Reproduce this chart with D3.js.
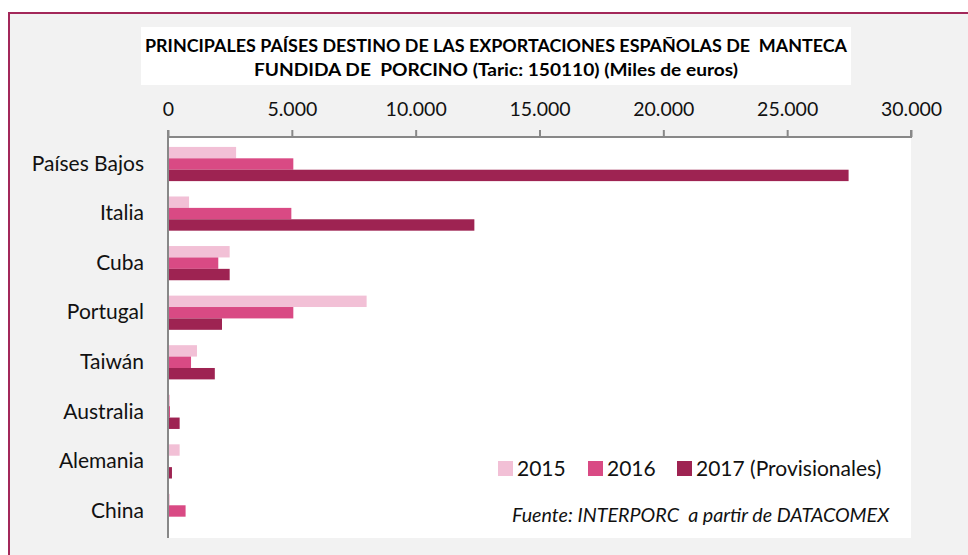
<!DOCTYPE html>
<html>
<head>
<meta charset="utf-8">
<script src="https://cdn.jsdelivr.net/npm/d3@7"></script>
<style>
  html, body { margin: 0; padding: 0; background: #ffffff; }
  svg { display: block; font-family: Lato, "Open Sans", sans-serif; }
  text { white-space: pre; }
</style>
</head>
<body>
<svg id="chart" width="968" height="555"></svg>
<script>
// Destination countries, top to bottom
const countries = ["Países Bajos", "Italia", "Cuba", "Portugal", "Taiwán", "Australia", "Alemania", "China"];
const years = ["2015", "2016", "2017"];
const yearLabels = ["2015", "2016", "2017 (Provisionales)"];
// Export value, thousands of euros
const values2015 = [2750, 850, 2490, 8020, 1170, 80, 470, 70];
const values2016 = [5060, 4980, 2030, 5060, 930, 80, 20, 710];
const values2017 = [27480, 12370, 2490, 2180, 1890, 470, 160, 20];
const tickValues = [0, 5000, 10000, 15000, 20000, 25000, 30000];
const titleLines = [
  "PRINCIPALES PAÍSES DESTINO DE LAS EXPORTACIONES ESPAÑOLAS DE  MANTECA",
  "FUNDIDA DE  PORCINO (Taric: 150110) (Miles de euros)"
];
const titleWidths = [702, 484];
const sourceText = "Fuente: INTERPORC  a partir de DATACOMEX";

const colors = { "2015": "#f2c0d6", "2016": "#d94a84", "2017": "#9e2352" };
const seriesValues = { "2015": values2015, "2016": values2016, "2017": values2017 };

const svg = d3.select("#chart");

// Panel background and frame
svg.append("rect").attr("x", 9).attr("y", 13).attr("width", 980).attr("height", 560)
  .attr("fill", "#f2f2f2").attr("stroke", "#a3285a").attr("stroke-width", 2);

// Title box
svg.append("rect").attr("x", 141).attr("y", 27).attr("width", 710).attr("height", 58).attr("fill", "#ffffff");
svg.append("g").selectAll("text").data(titleLines).join("text")
  .attr("x", 496).attr("y", (d, i) => 52 + i * 24)
  .attr("text-anchor", "middle").attr("font-weight", "bold").attr("font-size", 16.5)
  .attr("textLength", (d, i) => titleWidths[i]).attr("lengthAdjust", "spacingAndGlyphs")
  .attr("fill", "#000").text(d => d);

const plotLeft = 168, plotRight = 911, plotTop = 137, plotBottom = 538;

// Plot area
svg.append("rect").attr("x", plotLeft).attr("y", plotTop)
  .attr("width", plotRight - plotLeft).attr("height", plotBottom - plotTop)
  .attr("fill", "#ffffff");

const x = d3.scaleLinear().domain([0, 30000]).range([plotLeft, plotRight]);
const y = d3.scaleBand().domain(countries).range([plotTop, plotBottom]).paddingInner(0.31).paddingOuter(0.2);
const yInner = d3.scaleBand().domain(years).range([0, y.bandwidth()]);

const rows = countries.map((c, i) => ({ country: c, vals: years.map(yr => ({ year: yr, value: seriesValues[yr][i] })) }));

const groups = svg.append("g").selectAll("g").data(rows).join("g")
  .attr("transform", d => `translate(0,${y(d.country)})`);
groups.selectAll("rect").data(d => d.vals).join("rect")
  .attr("x", x(0))
  .attr("y", d => yInner(d.year))
  .attr("width", d => x(d.value) - x(0))
  .attr("height", yInner.bandwidth())
  .attr("fill", d => colors[d.year]);

// Top value axis
const fmt = v => d3.format(",")(v).replace(/,/g, ".");
const xAxis = svg.append("g").attr("transform", `translate(0,${plotTop})`)
  .call(d3.axisTop(x).tickValues(tickValues).tickFormat(fmt).tickSize(7).tickPadding(14));
xAxis.select(".domain").attr("stroke", "#888").attr("stroke-width", 2)
  .attr("d", `M${plotLeft},-7V0H${plotRight}V-7`);
xAxis.selectAll(".tick line").attr("stroke", "#888").attr("stroke-width", 2);
xAxis.selectAll(".tick text").attr("font-size", 19.5).attr("fill", "#111").attr("font-family", "Lato, sans-serif");

// Category axis
const yAxis = svg.append("g").attr("transform", `translate(${plotLeft},0)`)
  .call(d3.axisLeft(y).tickSize(0).tickPadding(24));
yAxis.select(".domain").attr("stroke", "#888").attr("stroke-width", 2).attr("d", `M0,${plotTop}V${plotBottom}`);
yAxis.selectAll(".tick text").attr("font-size", 21).attr("fill", "#111").attr("font-family", "Lato, sans-serif");

// Legend
const legendX = [498, 588, 677];
const legend = svg.append("g").selectAll("g").data(years).join("g")
  .attr("transform", (d, i) => `translate(${legendX[i]},461)`);
legend.append("rect").attr("width", 15).attr("height", 15).attr("fill", d => colors[d]);
legend.append("text").attr("x", 19).attr("y", 15).attr("font-size", 21).attr("fill", "#111")
  .text((d, i) => yearLabels[i]);

// Source note
svg.append("text").attr("x", 512).attr("y", 522).attr("font-size", 19.7).attr("font-style", "italic")
  .attr("fill", "#111").text(sourceText);
</script>
</body>
</html>
